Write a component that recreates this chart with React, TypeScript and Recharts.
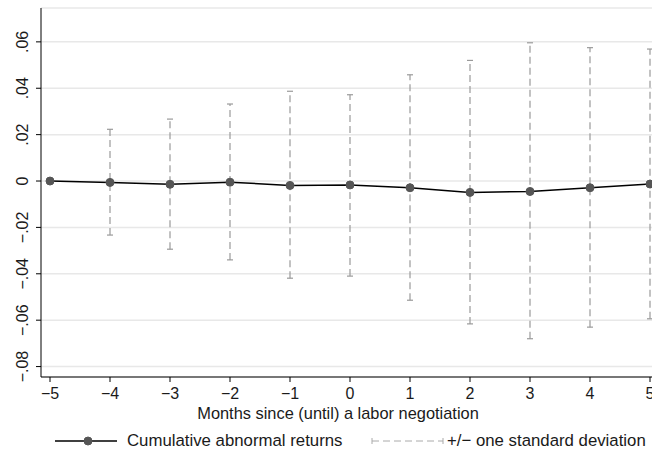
import React from 'react';
import { LineChart, Line, XAxis, YAxis, CartesianGrid, ErrorBar, Legend } from 'recharts';

const months = [-5, -4, -3, -2, -1, 0, 1, 2, 3, 4, 5];
const car = [0, -0.0006, -0.0014, -0.0005, -0.0019, -0.0017, -0.0029, -0.0049, -0.0045, -0.0029, -0.0013];
const upperBand = [null, 0.0223, 0.0267, 0.0332, 0.0387, 0.0372, 0.0458, 0.052, 0.0596, 0.0575, 0.0569];
const lowerBand = [null, -0.0233, -0.0294, -0.034, -0.0419, -0.041, -0.0514, -0.0616, -0.068, -0.063, -0.0594];
const yTicks = [-0.08, -0.06, -0.04, -0.02, 0, 0.02, 0.04, 0.06];
const xTitle = 'Months since (until) a labor negotiation';
const seriesLabel = 'Cumulative abnormal returns';
const bandLabel = '+/\u2212 one standard deviation';

const data = months.map((m, i) => ({
  month: m,
  car: car[i],
  err:
    upperBand[i] == null || lowerBand[i] == null
      ? null
      : [car[i] - (lowerBand[i] as number), (upperBand[i] as number) - car[i]],
}));

const FONT = '"Liberation Sans", Arial, Helvetica, sans-serif';
const TXT = '#1a1a1a';

const fmtY = (v: number) => {
  if (Math.abs(v) < 1e-9) return '0';
  const s = Math.abs(v).toFixed(2).replace(/^0/, '');
  return (v < 0 ? '\u2212' : '') + s;
};
const fmtX = (v: number) => (v < 0 ? '\u2212' + Math.abs(v) : String(v));

const YTick = (props: any) => {
  const { x, y, payload } = props;
  const tx = x - 6;
  return (
    <text
      x={tx}
      y={y}
      transform={`rotate(-90, ${tx}, ${y})`}
      textAnchor="middle"
      fill={TXT}
      fontSize={16}
      fontFamily={FONT}
    >
      {fmtY(payload.value)}
    </text>
  );
};

const LegendContent = () => (
  <div style={{ position: 'relative', width: 652, height: 26, fontFamily: FONT, fontSize: 16.8, color: TXT }}>
    <svg width={64} height={12} style={{ position: 'absolute', left: 55, top: 7 }}>
      <line x1={0} y1={6} x2={62} y2={6} stroke="#000" strokeWidth={1.5} />
      <circle cx={33} cy={6} r={4} fill="#555" stroke="#555" />
    </svg>
    <span style={{ position: 'absolute', left: 127, top: 3, lineHeight: '20px', whiteSpace: 'nowrap' }}>{seriesLabel}</span>
    <svg width={74} height={12} style={{ position: 'absolute', left: 371, top: 7 }}>
      <line x1={1} y1={6} x2={72} y2={6} stroke="#aaa" strokeWidth={1} strokeDasharray="7 4" />
      <line x1={1} y1={3} x2={1} y2={9} stroke="#aaa" strokeWidth={1} />
      <line x1={72} y1={3} x2={72} y2={9} stroke="#aaa" strokeWidth={1} />
    </svg>
    <span style={{ position: 'absolute', left: 447, top: 3, lineHeight: '20px', whiteSpace: 'nowrap' }}>{bandLabel}</span>
  </div>
);

export default function App() {
  return (
    <div
      style={{
        position: 'fixed',
        left: 0,
        top: 0,
        width: 652,
        height: 462,
        overflow: 'hidden',
        background: '#fff',
      }}
    >
      <LineChart
        width={659}
        height={462}
        data={data}
        margin={{ top: 8, right: 0, left: 0, bottom: 45 }}
      >
        <CartesianGrid vertical={false} stroke="#e8e8e8" strokeWidth={1.5} />
        <XAxis
          dataKey="month"
          type="number"
          domain={[-5.15, 5.15]}
          ticks={months}
          allowDataOverflow
          tickFormatter={fmtX}
          height={40}
          tickSize={5}
          tickMargin={6}
          axisLine={{ stroke: '#000' }}
          tickLine={{ stroke: '#000' }}
          tick={{ fill: TXT, fontSize: 16, fontFamily: FONT }}
          label={{
            content: (p: any) => {
              const vb = p.viewBox || {};
              return (
                <text
                  x={vb.x + vb.width / 2 - 12}
                  y={vb.y + 42}
                  textAnchor="middle"
                  fill={TXT}
                  fontSize={16.4}
                  fontFamily={FONT}
                >
                  {xTitle}
                </text>
              );
            },
          }}
        />
        <YAxis
          type="number"
          domain={[-0.0845, 0.0746]}
          ticks={yTicks}
          allowDataOverflow
          width={41}
          tickSize={5}
          axisLine={{ stroke: '#000' }}
          tickLine={{ stroke: '#000' }}
          tick={<YTick />}
        />
        <Legend
          verticalAlign="middle"
          align="center"
          layout="horizontal"
          content={<LegendContent />}
          wrapperStyle={{ position: 'absolute', left: 0, top: 428, width: 652, height: 26 }}
        />
        <Line
          dataKey="car"
          type="linear"
          stroke="#000"
          strokeWidth={1.5}
          dot={{ r: 4, fill: '#555', stroke: '#555', strokeWidth: 1 }}
          activeDot={false}
          isAnimationActive={false}
          legendType="none"
        >
          <ErrorBar
            dataKey="err"
            direction="y"
            width={3}
            stroke="#9a9a9a"
            strokeWidth={1.2}
            strokeDasharray="7 4"
            isAnimationActive={false}
          />
        </Line>
      </LineChart>
    </div>
  );
}
